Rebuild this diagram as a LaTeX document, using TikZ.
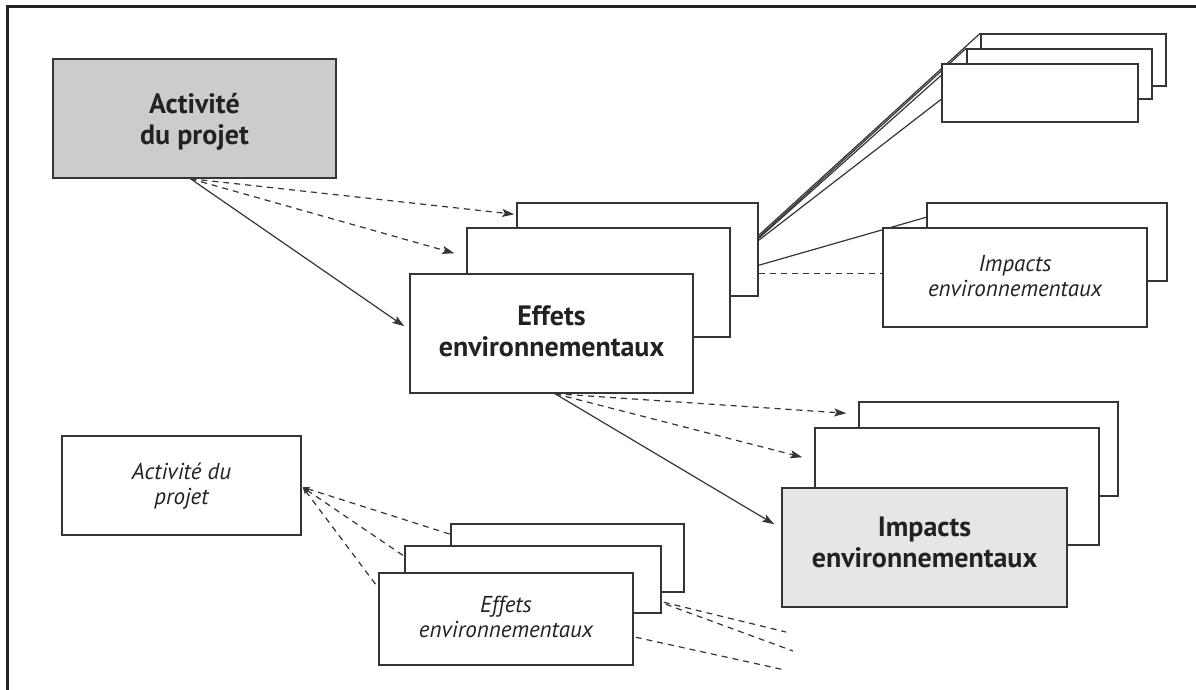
\documentclass[tikz,border=0pt]{standalone}
\usepackage{fontspec}
\setmainfont{PT Sans}
\usetikzlibrary{arrows.meta,calc}
\definecolor{ink}{HTML}{353535}
\definecolor{txt}{HTML}{222222}
\definecolor{greyA}{HTML}{CBCCCE}
\definecolor{greyB}{HTML}{E6E6E6}
\pgfdeclarelayer{paper}
\pgfdeclarelayer{links}
\pgfsetlayers{paper,links,main}

\begin{document}
\begin{tikzpicture}[x=1pt,y=-1pt,
  box/.style={draw=ink,line width=1.5pt,fill=white,rectangle,inner sep=0pt,
              align=center,text=txt},
  link/.style={draw=ink,line width=1.2pt},
  dashlink/.style={link,dash pattern=on 6pt off 5pt},
  tip/.style={-{Stealth[length=12pt,width=8pt,inset=2.5pt]}},
  smalltip/.style={{Stealth[length=7pt,width=5pt,inset=1.5pt]}-},
  bigtxt/.style={font=\fontsize{28}{31}\selectfont\bfseries,text height=52pt,text depth=6pt},
  smalltxt/.style={font=\fontsize{23}{25}\selectfont\itshape,text height=42pt,text depth=5pt},
]
\useasboundingbox (0,0) rectangle (1196,690);
\begin{pgfonlayer}{paper}
  \fill[white] (0,0) rectangle (1196,690);
\end{pgfonlayer}

% frame (left and top rules)
\draw[line width=3pt,draw=txt] (7,690) -- (7,7) -- (1196,7);

% project activity
\node[box,fill=greyA,bigtxt,text depth=1pt,minimum width=283pt,minimum height=119pt] (A) at (194.5,118.5) {Activité\\du projet};

% environmental effects stack
\node[box,minimum width=241pt,minimum height=93pt] (E3) at (637.5,249.5) {};
\node[box,minimum width=263pt,minimum height=109pt] (E2) at (598.5,282.5) {};
\node[box,bigtxt,minimum width=283pt,minimum height=119pt] (E1) at (551.5,333.5) {Effets\\environnementaux};

% upper right stack
\node[box,minimum width=185pt,minimum height=52pt] (T3) at (1073.5,60) {};
\node[box,minimum width=185pt,minimum height=50pt] (T2) at (1059.5,74) {};
\node[box,minimum width=196pt,minimum height=58pt] (T1) at (1040,93) {};

% middle right stack
\node[box,minimum width=240pt,minimum height=78pt] (R2) at (1047,242) {};
\node[box,smalltxt,minimum width=264pt,minimum height=99pt] (R1) at (1015,277.5) {Impacts\\environnementaux};

% environmental impacts stack
\node[box,minimum width=259pt,minimum height=94pt] (I3) at (988.5,449) {};
\node[box,minimum width=284pt,minimum height=117pt] (I2) at (957,486.5) {};
\node[box,fill=greyB,bigtxt,text depth=13pt,minimum width=285pt,minimum height=119pt] (I1) at (924.5,547.5) {Impacts\\environnementaux};

% lower left: activity and effects stack
\node[box,smalltxt,minimum width=239pt,minimum height=99pt] (B) at (181.5,485.5) {Activité du\\projet};
\node[box,minimum width=233pt,minimum height=68pt] (F3) at (567.5,558) {};
\node[box,minimum width=256pt,minimum height=67pt] (F2) at (533,579.5) {};
\node[box,smalltxt,minimum width=254pt,minimum height=92pt] (F1) at (506,619) {Effets\\environnementaux};

% loose ends of the lower dashed lines
\coordinate (o1) at (786,632);
\coordinate (o2) at (793,651);
\coordinate (o3) at (785,670);

\begin{pgfonlayer}{links}
  % activity -> effects
  \draw[link,tip] ($(A.south)+(-4,0)$) -- ($(E1.north west)+(-5,53)$);
  \draw[dashlink,tip] ($(A.south)+(-4,0)$) -- ($(E3.north west)+(-2,12)$);
  \draw[dashlink,tip] ($(A.south)+(-4,0)$) -- ($(E2.north west)+(-12,26)$);
  % effects -> impacts
  \draw[link,tip] ($(E1.south)+(3.5,0)$) -- ($(I1.north west)+(-7,37)$);
  \draw[dashlink,tip] ($(E1.south)+(3.5,0)$) -- ($(I3.north west)+(-12,12)$);
  \draw[dashlink,tip] ($(E1.south)+(3.5,0)$) -- ($(I2.north west)+(-12,30)$);
  % effects -> upper right stack
  \draw[link] ($(E3.north east)+(0,33)$) -- (T3.north west);
  \draw[link] ($(E3.north east)+(0,35)$) -- (T2.north west);
  \draw[link] ($(E3.north east)+(0,36)$) -- ($(T1.north west)+(0,12)$);
  \draw[link] ($(E3.north east)+(0,38)$) -- ($(T1.north west)+(0,36)$);
  % effects -> middle right stack
  \draw[link] ($(E3.north east)+(0,63)$) -- ($(R2.north west)+(0,15)$);
  \draw[dashlink] ($(E3.north east)+(0,71)$) -- ($(R1.north west)+(0,46)$);
  % lower effects -> activity
  \draw[dashlink,smalltip] ($(B.north east)+(1,52)$) -- ($(F3.north west)+(0,11)$);
  \draw[dashlink,smalltip] ($(B.north east)+(1,52)$) -- ($(F2.north west)+(0,11)$);
  \draw[dashlink,smalltip] ($(B.north east)+(1,52)$) -- ($(F1.north west)+(-2,13)$);
  % lower effects, open-ended
  \draw[dashlink] ($(F2.north east)+(2,57)$) -- (o1);
  \draw[dashlink] ($(F2.north east)+(4,59)$) -- (o2);
  \draw[dashlink] ($(F1.north east)+(2,65)$) -- (o3);
\end{pgfonlayer}
\end{tikzpicture}
\end{document}
